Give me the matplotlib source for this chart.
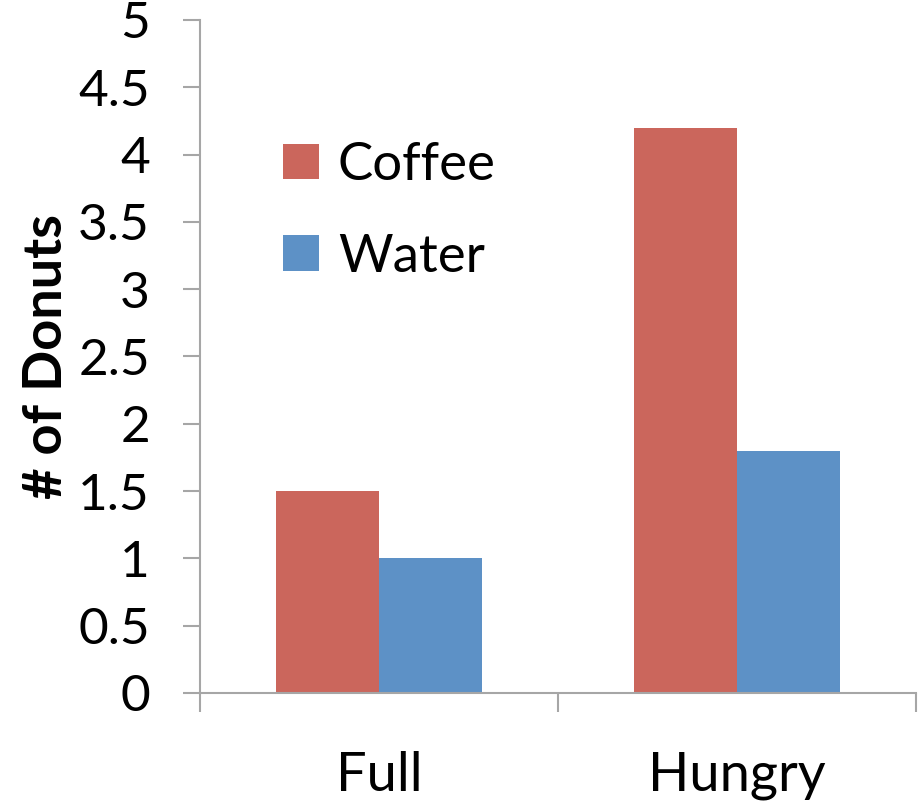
import matplotlib.pyplot as plt
from matplotlib.ticker import FixedLocator
import numpy as np

plt.rcParams['font.family'] = ['Lato', 'DejaVu Sans']

categories = ['Full', 'Hungry']
coffee = [1.5, 4.2]
water = [1.0, 1.8]
yticks = [0, 0.5, 1, 1.5, 2, 2.5, 3, 3.5, 4, 4.5, 5]
ytick_labels = ['0', '0.5', '1', '1.5', '2', '2.5', '3', '3.5', '4', '4.5', '5']

fig = plt.figure(figsize=(9.24, 8.06), dpi=100)
ax = fig.add_axes([0.2165, 0.1402, 0.7748, 0.835])

x = np.arange(len(categories))
w = 0.288
ax.bar(x - w / 2, coffee, w, color='#CB665C', label='Coffee')
ax.bar(x + w / 2, water, w, color='#5D91C6', label='Water')

ax.set_xlim(-0.5, 1.5)
ax.set_ylim(0, 5)
ax.set_yticks(yticks)
ax.set_yticklabels(ytick_labels)
ax.set_xticks(x)
ax.set_xticklabels(categories)
ax.xaxis.set_minor_locator(FixedLocator([-0.5, 0.5, 1.5]))

for s in ['top', 'right']:
    ax.spines[s].set_visible(False)
for s in ['left', 'bottom']:
    ax.spines[s].set_color('#A6A6A6')
    ax.spines[s].set_linewidth(1.5)

ax.tick_params(axis='y', length=12, width=1.5, color='#A6A6A6', labelsize=37, pad=24)
ax.tick_params(axis='x', which='major', length=0, labelsize=39, pad=42)
ax.tick_params(axis='x', which='minor', length=14, width=1.5, color='#A6A6A6')

ax.set_ylabel('# of Donuts', fontsize=39, fontweight='bold', labelpad=5)

ax.legend(loc='upper left', bbox_to_anchor=(0.087, 0.85), frameon=False,
          fontsize=38, handlelength=0.67, handleheight=0.67, handletextpad=0.36,
          labelspacing=0.85, borderaxespad=0)

fig.savefig('out.png', dpi=100)
